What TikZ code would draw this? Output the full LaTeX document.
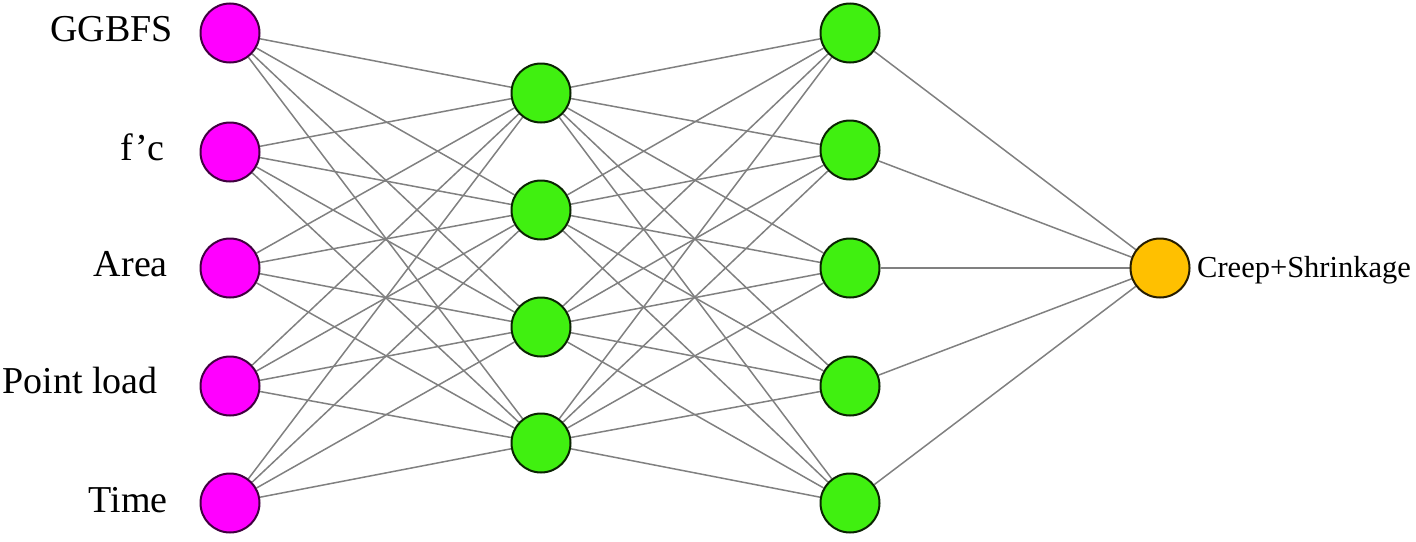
\documentclass[tikz,border=0pt]{standalone}
\usepackage{fontspec}
\setmainfont{Liberation Serif}
\usetikzlibrary{backgrounds}
\definecolor{inmag}{RGB}{255,0,255}
\definecolor{hidgreen}{RGB}{64,240,16}
\definecolor{outorange}{RGB}{255,192,0}
\definecolor{edgegray}{RGB}{128,128,128}
\begin{document}
\begin{tikzpicture}[x=1pt,y=-1pt,
  neuron/.style={circle,draw=black!85,line width=2pt,minimum size=59pt,inner sep=0pt},
  inneuron/.style={neuron,fill=inmag,draw=black!75!inmag},
  hidneuron/.style={neuron,fill=hidgreen,draw=black!85!hidgreen},
  outneuron/.style={neuron,fill=outorange,draw=black!85!outorange},
  link/.style={draw=edgegray,line width=1.5pt},
  inlabel/.style={anchor=base east,inner sep=0pt,font=\fontsize{38}{40}\selectfont},
  outlabel/.style={anchor=base west,inner sep=0pt,font=\fontsize{30.5}{32}\selectfont}]
\useasboundingbox (0,0) rectangle (1416,541);
% input layer
\node[inneuron] (i1) at (230,33) {};
\node[inneuron] (i2) at (230,152) {};
\node[inneuron] (i3) at (230,268) {};
\node[inneuron] (i4) at (230,386) {};
\node[inneuron] (i5) at (230,503) {};
% hidden layer 1
\node[hidneuron] (a1) at (541,93) {};
\node[hidneuron] (a2) at (541,210) {};
\node[hidneuron] (a3) at (541,327) {};
\node[hidneuron] (a4) at (541,443) {};
% hidden layer 2
\node[hidneuron] (b1) at (850,33) {};
\node[hidneuron] (b2) at (850,150) {};
\node[hidneuron] (b3) at (850,268) {};
\node[hidneuron] (b4) at (850,386) {};
\node[hidneuron] (b5) at (850,503) {};
% output
\node[outneuron] (o) at (1160,268) {};
% labels
\node[inlabel] (l1) at (173,41) {GGBFS};
\node[inlabel] (l2) at (165,160) {f’c};
\node[inlabel] (l3) at (168,276) {Area};
\node[inlabel] (l4) at (158,393) {Point load};
\node[inlabel] (l5) at (168,512) {Time};
\node[outlabel] (lo) at (1197,277) {Creep+Shrinkage};
\begin{scope}[on background layer]
\foreach \i in {1,...,5}{\foreach \a in {1,...,4}{\draw[link] (i\i) -- (a\a);}}
\foreach \a in {1,...,4}{\foreach \b in {1,...,5}{\draw[link] (a\a) -- (b\b);}}
\foreach \b in {1,...,5}{\draw[link] (b\b) -- (o);}
\end{scope}
\end{tikzpicture}
\end{document}
